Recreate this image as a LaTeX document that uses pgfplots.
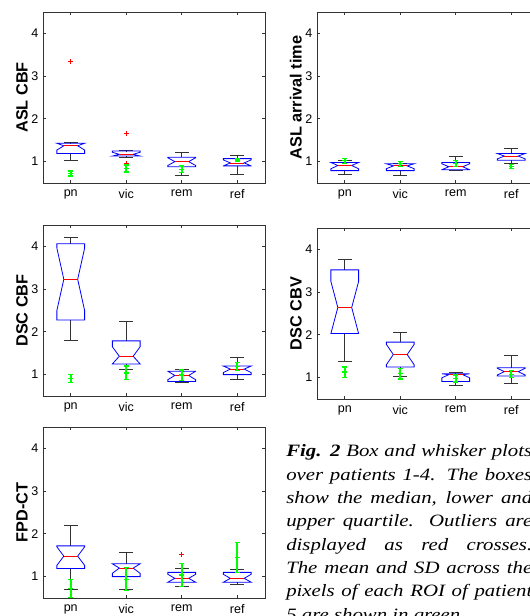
\documentclass[border=0pt]{standalone}
\usepackage{fontspec}
\setmainfont{Liberation Sans}
\newfontfamily\capserif[FakeStretch=1.2]{Liberation Serif}
\usepackage{pgfplots}
\pgfplotsset{compat=1.18}
\usepgfplotslibrary{statistics}

% notched MATLAB-style box: blue notched box, red median, black whiskers
\pgfplotsset{
  nbox/.style={
    red, mark=+, mark size=1.9pt, line width=0.6pt,
    boxplot/draw direction=y,
    boxplot/box extend=0.5,
    boxplot/draw/box/.code={%
      \pgfmathsetmacro\qlo{\pgfplotsboxplotvalue{lower quartile}}%
      \pgfmathsetmacro\qhi{\pgfplotsboxplotvalue{upper quartile}}%
      \pgfmathsetmacro\qmed{\pgfplotsboxplotvalue{median}}%
      \pgfmathsetmacro\nlo{max(\qlo,\qmed-0.41*(\qhi-\qlo))}%
      \pgfmathsetmacro\nhi{min(\qhi,\qmed+0.41*(\qhi-\qlo))}%
      \draw[blue, line width=0.6pt, line join=miter]
        (boxplot box cs:\qlo,0) -- (boxplot box cs:\nlo,0)
        -- (boxplot box cs:\qmed,0.25) -- (boxplot box cs:\nhi,0)
        -- (boxplot box cs:\qhi,0) -- (boxplot box cs:\qhi,1)
        -- (boxplot box cs:\nhi,1) -- (boxplot box cs:\qmed,0.75)
        -- (boxplot box cs:\nlo,1) -- (boxplot box cs:\qlo,1) -- cycle;
    },
    boxplot/draw/median/.code={%
      \draw[red, line width=0.6pt]
        (boxplot box cs:\pgfplotsboxplotvalue{median},0.25)
        -- (boxplot box cs:\pgfplotsboxplotvalue{median},0.75);
    },
    boxplot/draw/lower whisker/.code={%
      \draw[black!80, line width=0.6pt]
        (boxplot box cs:\pgfplotsboxplotvalue{lower whisker},0.5)
        -- (boxplot box cs:\pgfplotsboxplotvalue{lower quartile},0.5)
        (boxplot box cs:\pgfplotsboxplotvalue{lower whisker},0.25)
        -- (boxplot box cs:\pgfplotsboxplotvalue{lower whisker},0.75);
    },
    boxplot/draw/upper whisker/.code={%
      \draw[black!80, line width=0.6pt]
        (boxplot box cs:\pgfplotsboxplotvalue{upper whisker},0.5)
        -- (boxplot box cs:\pgfplotsboxplotvalue{upper quartile},0.5)
        (boxplot box cs:\pgfplotsboxplotvalue{upper whisker},0.25)
        -- (boxplot box cs:\pgfplotsboxplotvalue{upper whisker},0.75);
    },
  },
  panel/.style={
    scale only axis, width=166.5pt, height=128.25pt, anchor=south west,
    xmin=0.5, xmax=4.5, ymin=0.5, ymax=4.5,
    xtick={1,2,3,4}, xticklabels={pn,vic,rem,ref}, ytick={1,2,3,4},
    tick align=inside, major tick length=2.25pt,
    axis line style={black!80, line width=0.6pt},
    every tick/.style={black!80, line width=0.6pt},
    tick label style={font=\fontsize{9.4}{11}\selectfont},
    xticklabel style={yshift=-1.5pt},
    /pgf/number format/assume math mode=true,
    ylabel style={at={(axis description cs:-0.095,0.5)}, anchor=center,
      font=\bfseries\fontsize{12.2}{14}\selectfont},
  },
}

% \nb[outliers]{pos}{lower whisker}{q1}{median}{q3}{upper whisker}
\newcommand\nb[7][]{\addplot[nbox, boxplot prepared={draw position=#2,
  lower whisker=#3, lower quartile=#4, median=#5, upper quartile=#6,
  upper whisker=#7}] coordinates {#1};}
% patient 5: mean - SD, mean, mean + SD in green
\newcommand\msd[4]{\addplot[color=green, line width=1.2pt, mark=-,
  mark size=1.8pt, mark options={solid, line width=1pt}]
  coordinates {(#1,#2) (#1,#3) (#1,#4)};}

\begin{document}
\begin{tikzpicture}
\useasboundingbox (0,0) rectangle (397.5pt,-462pt);
\clip (0,0) rectangle (397.5pt,-462pt);

% ASL CBF
\begin{axis}[panel, at={(32.25pt,-137.25pt)}, ylabel={ASL CBF}]
\nb[(1,3.34)]{1}{1.02}{1.19}{1.37}{1.43}{1.44}
\nb[(2,1.66) (2,0.95)]{2}{1.10}{1.13}{1.17}{1.25}{1.26}
\nb{3}{0.67}{0.88}{1.00}{1.10}{1.22}
\nb{4}{0.70}{0.90}{0.97}{1.07}{1.15}
\msd{1}{0.66}{0.72}{0.78} \msd{2}{0.76}{0.84}{0.92}
\msd{3}{0.74}{0.82}{0.90} \msd{4}{1.00}{1.04}{1.08}
\end{axis}

% ASL arrival time
\begin{axis}[panel, at={(237.75pt,-137.25pt)}, ylabel={ASL arrival time}]
\nb{1}{0.69}{0.79}{0.91}{0.98}{1.04}
\nb{2}{0.67}{0.79}{0.90}{0.95}{0.96}
\nb{3}{0.79}{0.81}{0.88}{0.98}{1.12}
\nb{4}{0.96}{1.03}{1.13}{1.19}{1.31}
\msd{1}{0.96}{1.02}{1.08} \msd{2}{0.89}{0.95}{1.01}
\msd{3}{0.89}{0.96}{1.03} \msd{4}{0.84}{0.89}{0.94}
\end{axis}

% DSC CBF
\begin{axis}[panel, at={(32.25pt,-297pt)}, ylabel={DSC CBF}]
\nb{1}{1.80}{2.28}{3.23}{4.06}{4.20}
\nb{2}{1.12}{1.25}{1.43}{1.79}{2.24}
\nb{3}{0.82}{0.84}{0.98}{1.08}{1.13}
\nb{4}{0.88}{1.00}{1.13}{1.20}{1.41}
\msd{1}{0.81}{0.91}{1.01} \msd{2}{0.88}{1.04}{1.20}
\msd{3}{0.87}{0.99}{1.11} \msd{4}{1.09}{1.19}{1.29}
\end{axis}

% DSC CBV
\begin{axis}[panel, at={(237.75pt,-299.25pt)}, ylabel={DSC CBV}]
\nb{1}{1.39}{2.03}{2.64}{3.52}{3.76}
\nb{2}{1.02}{1.25}{1.54}{1.83}{2.06}
\nb{3}{0.82}{0.91}{1.07}{1.09}{1.13}
\nb{4}{0.86}{1.04}{1.14}{1.23}{1.51}
\msd{1}{1.01}{1.13}{1.25} \msd{2}{0.97}{1.09}{1.21}
\msd{3}{0.90}{0.98}{1.06} \msd{4}{1.00}{1.08}{1.16}
\end{axis}

% FPD-CT
\begin{axis}[panel, at={(32.25pt,-448.5pt)}, ylabel={FPD-CT}]
\nb{1}{0.71}{1.19}{1.48}{1.72}{2.19}
\nb{2}{0.71}{1.00}{1.20}{1.30}{1.57}
\nb[(3,1.51)]{3}{0.77}{0.87}{0.96}{1.10}{1.19}
\nb{4}{0.83}{0.87}{0.96}{1.10}{1.18}
\msd{1}{0.51}{0.72}{0.93} \msd{2}{0.67}{0.94}{1.21}
\msd{3}{0.77}{1.04}{1.31} \msd{4}{1.10}{1.45}{1.80}
\end{axis}

\node[anchor=base west, inner sep=0pt, text width=184.5pt, align=justify,
  font=\capserif\itshape\fontsize{13}{17.5}\selectfont]
  at (214.5pt,-342.5pt)
  {{\bfseries Fig. 2} Box and whisker plots\linebreak
   over patients 1-4. The boxes\linebreak
   show the median, lower and\linebreak
   upper quartile. Outliers are\linebreak
   displayed as red crosses.\linebreak
   The mean and SD across the\linebreak
   pixels of each ROI of patient\linebreak
   5 are shown in green.};
\end{tikzpicture}
\end{document}
